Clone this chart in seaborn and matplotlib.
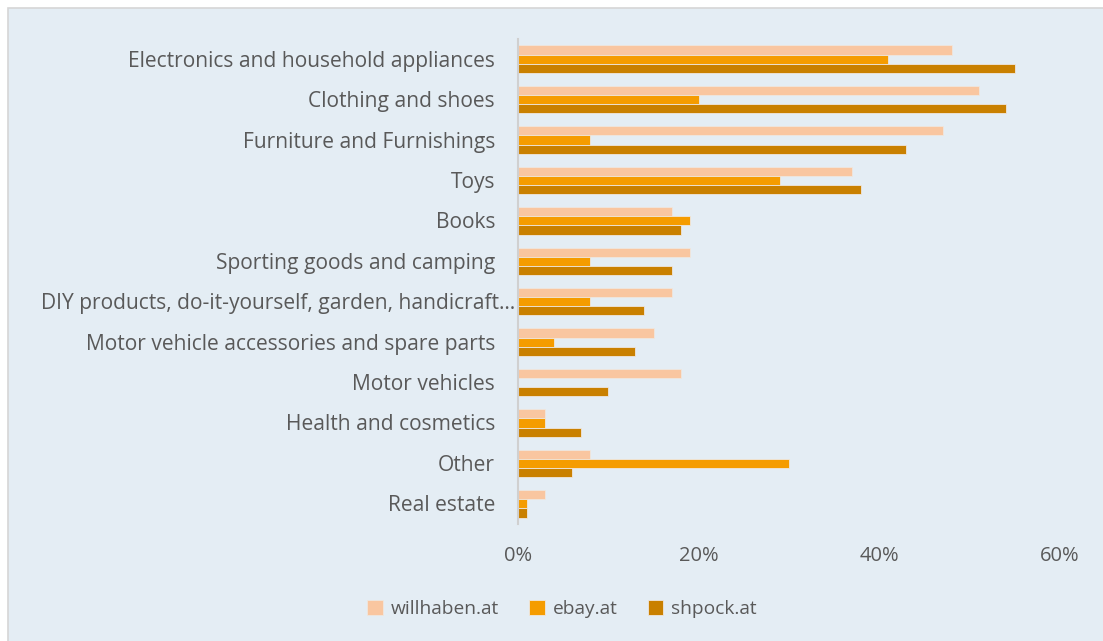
import matplotlib
matplotlib.use("Agg")
import matplotlib.pyplot as plt
import matplotlib.transforms as mtransforms
from matplotlib.patches import Rectangle
from matplotlib.ticker import FuncFormatter
import seaborn as sns
import pandas as pd

categories = [
    "Electronics and household appliances",
    "Clothing and shoes",
    "Furniture and Furnishings",
    "Toys",
    "Books",
    "Sporting goods and camping",
    "DIY products, do-it-yourself, garden, handicraft…",
    "Motor vehicle accessories and spare parts",
    "Motor vehicles",
    "Health and cosmetics",
    "Other",
    "Real estate",
]
willhaben = [48, 51, 47, 37, 17, 19, 17, 15, 18, 3, 8, 3]
ebay = [41, 20, 8, 29, 19, 8, 8, 4, 0, 3, 30, 1]
shpock = [55, 54, 43, 38, 18, 17, 14, 13, 10, 7, 6, 1]
series_names = ["willhaben.at", "ebay.at", "shpock.at"]
colors = ["#f9c6a0", "#f59c00", "#c98000"]
xticks = [0, 20, 40, 60]

rows = []
for name, vals in zip(series_names, [willhaben, ebay, shpock]):
    for c, v in zip(categories, vals):
        rows.append({"category": c, "site": name, "value": v})
df = pd.DataFrame(rows)

sns.set_style("white")
plt.rcParams["font.family"] = ["Open Sans", "DejaVu Sans"]

W, H = 1103, 641
TXT = "#595959"
fig = plt.figure(figsize=(W / 100, H / 100), dpi=100, facecolor="white")
bg = Rectangle((8 / W, -0.1), 1.2, (H - 8) / H + 0.1, transform=fig.transFigure,
               facecolor="#e4edf4", edgecolor="#d6d6d6", linewidth=1.2, zorder=-10)
fig.patches.append(bg)

ax = fig.add_axes([518 / W, 1 - 524 / H, (1060 - 518) / W, (524 - 39) / H])
ax.set_facecolor("none")
ax.set_zorder(1)

sns.barplot(data=df, y="category", x="value", hue="site", order=categories,
            hue_order=series_names, palette=colors, saturation=1, orient="h", width=0.68,
            edgecolor="#efe7df", linewidth=0.6, ax=ax, legend=True)

ax.set_xlim(0, 60)
ax.set_ylim(len(categories) - 0.5, -0.5)
ax.set_xticks(xticks)
ax.xaxis.set_major_formatter(FuncFormatter(lambda v, p: f"{int(v)}%"))
ax.set_xlabel("")
ax.set_ylabel("")
for s in ["top", "right", "bottom"]:
    ax.spines[s].set_visible(False)
ax.spines["left"].set_color("#d0d0d0")
ax.spines["left"].set_linewidth(1.5)

# category labels: right-aligned ~23px left of the axis, the truncated one reaching the axis
ax.set_yticks(range(len(categories)))
ax.set_yticklabels([""] * len(categories))
ax.tick_params(axis="y", length=0)
for i, c in enumerate(categories):
    off = -3 if c.endswith("…") else -23
    tr = mtransforms.offset_copy(ax.get_yaxis_transform(), fig=fig, x=off, y=-2, units="dots")
    ax.text(0, i, c, transform=tr, ha="right", va="center", fontsize=15.1, color=TXT)

ax.tick_params(axis="x", length=0, pad=16, labelsize=14.5, labelcolor=TXT)
ax.grid(False)

handles, labels = ax.get_legend_handles_labels()
ax.get_legend().remove()
fig.legend(handles, labels, loc="center", bbox_to_anchor=(562 / W, 1 - 609 / H),
           ncol=3, frameon=False, fontsize=13.8, labelcolor=TXT,
           handlelength=0.8, handleheight=0.8, handletextpad=0.4, columnspacing=1.6)

fig.savefig("out.png", dpi=100, facecolor=fig.get_facecolor())
